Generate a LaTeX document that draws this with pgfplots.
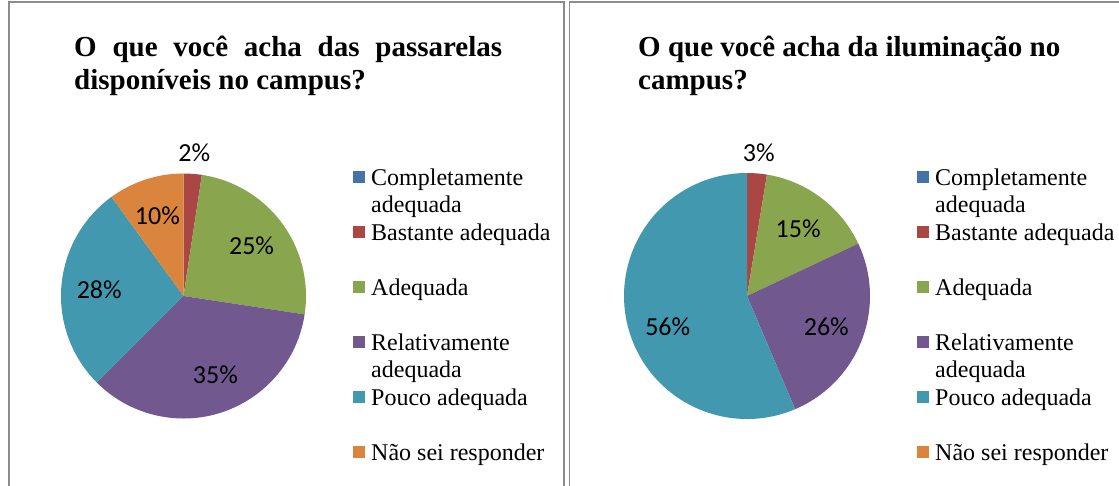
\documentclass[border=0pt]{standalone}
\usepackage{fontspec}
\setmainfont{Liberation Serif}
\newfontfamily\calibri{Carlito}
\usepackage{pgfplots}
\usepackage{pgfplotstable}
\pgfplotsset{compat=1.18}

\definecolor{pc0}{HTML}{4572A7}
\definecolor{pc1}{HTML}{AA4643}
\definecolor{pc2}{HTML}{89A54E}
\definecolor{pc3}{HTML}{71588F}
\definecolor{pc4}{HTML}{4198AF}
\definecolor{pc5}{HTML}{DB843D}
\definecolor{frame}{HTML}{8C8C8C}

% shares in percent, one row per answer (same order as the legend);
% nudge = turn of the label off the mid angle (Excel "best fit"), degrees
\pgfplotstableread{
cat val nudge
0 0 0
1 2.4 0
2 25.0 0
3 35.1 4
4 27.5 0
5 10.0 0
}\passarelas

\pgfplotstableread{
cat val nudge
0 0 0
1 2.6 0
2 15.4 0
3 25.6 0
4 56.4 9.5
5 0 0
}\iluminacao

\newcommand\piefont{\calibri\fontsize{26}{30}\selectfont}
\newcommand\legfont{\fontsize{24}{27.5}\selectfont}
\newcommand\titlefont{\bfseries\fontsize{29}{34}\selectfont}

% slices clockwise from 12 o'clock, labels at mid angle
\newcommand\drawpie[1]{%
  \pgfplotsextra{%
    \def\cum{0}%
    \pgfplotsforeachungrouped \i in {0,...,5}{%
      \pgfplotstablegetelem{\i}{val}\of{#1}%
      \let\pv\pgfplotsretval
      \pgfplotstablegetelem{\i}{nudge}\of{#1}%
      \let\nd\pgfplotsretval
      \ifdim\pv pt>0pt
        \pgfmathsetmacro\sa{90-3.6*\cum}%
        \pgfmathsetmacro\sb{90-3.6*(\cum+\pv)}%
        \pgfmathsetmacro\sm{(\sa+\sb)/2+\nd}%
        \pgfmathsetmacro\rf{\pv<5 ? 1.17 : 0.69}%
        \pgfmathsetmacro\xa{cos(\sa)}%
        \pgfmathsetmacro\ya{sin(\sa)}%
        \pgfmathsetmacro\lx{\rf*cos(\sm)}%
        \pgfmathsetmacro\ly{\rf*sin(\sm)}%
        \pgfmathtruncatemacro\pp{round(\pv)}%
        \fill[pc\i] (axis cs:0,0) -- (axis cs:\xa,\ya) arc[start angle=\sa, end angle=\sb, radius=1] -- cycle;
        \node[font=\piefont, inner sep=0pt] at (axis cs:\lx,\ly) {\pp\%};
        \pgfmathsetmacro\cum{\cum+\pv}%
      \fi
    }%
  }%
}

% 11 legend rows of equal height; blank rows keep Excel's spacing
\newcommand\pielegend{%
  \addlegendimage{fill=pc0}\addlegendentry{Completamente}
  \addlegendimage{legblank}\addlegendentry{adequada}
  \addlegendimage{fill=pc1}\addlegendentry{Bastante adequada}
  \addlegendimage{legblank}\addlegendentry{}
  \addlegendimage{fill=pc2}\addlegendentry{Adequada}
  \addlegendimage{legblank}\addlegendentry{}
  \addlegendimage{fill=pc3}\addlegendentry{Relativamente}
  \addlegendimage{legblank}\addlegendentry{adequada}
  \addlegendimage{fill=pc4}\addlegendentry{Pouco adequada}
  \addlegendimage{legblank}\addlegendentry{}
  \addlegendimage{fill=pc5}\addlegendentry{Não sei responder}
}

\pgfplotsset{
  legblank/.style={legend image code/.code={%
      \path[draw=none, fill=none] (0pt,-13.75pt) rectangle (12pt,13.75pt);}},
  pie axis/.style={
    hide axis, scale only axis, clip=false,
    xmin=-1, xmax=1, ymin=-1, ymax=1,
    anchor=center,
    legend cell align=left,
    legend image code/.code={%
      \path[draw=none, fill=none] (0pt,-13.75pt) rectangle (12pt,13.75pt);
      \fill[draw=none, ##1] (0pt,-3.5pt) rectangle (12pt,8.5pt);},
    legend style={draw=none, fill=none, anchor=north west, inner sep=0pt,
      row sep=0pt, column sep=6pt, font=\legfont,
      nodes={inner sep=0pt, text height=19.25pt, text depth=8.25pt}},
  },
}

\begin{document}
\begin{tikzpicture}
\useasboundingbox (0pt,0pt) rectangle (1119pt,486pt);
\clip (0pt,0pt) rectangle (1119pt,486pt);

% panel frames (cut off at the bottom and right)
\draw[frame, line width=1.5pt] (9pt,-10pt) -- (9pt,484pt) -- (564pt,484pt) -- (564pt,-10pt);
\draw[frame, line width=1.5pt] (569.5pt,-10pt) -- (569.5pt,484pt) -- (1130pt,484pt);

% titles
\node[anchor=base west, inner sep=0pt, font=\titlefont] at (74pt,429pt)
  {\makebox[428pt][s]{O que você acha das passarelas}};
\node[anchor=base west, inner sep=0pt, font=\titlefont] at (74pt,396pt)
  {disponíveis no campus?};
\node[anchor=base west, inner sep=0pt, font=\titlefont] at (638pt,429pt)
  {O que você acha da iluminação no};
\node[anchor=base west, inner sep=0pt, font=\titlefont] at (638pt,396pt)
  {campus?};

\begin{axis}[pie axis, at={(183.5pt,190pt)}, width=245pt, height=245pt,
  legend style={at={(1.19184,1.03163)}}]
\drawpie{\passarelas}
\pielegend
\end{axis}

\begin{axis}[pie axis, at={(747pt,190pt)}, width=246pt, height=246pt,
  legend style={at={(1.19106,1.02947)}}]
\drawpie{\iluminacao}
\pielegend
\end{axis}
\end{tikzpicture}
\end{document}
